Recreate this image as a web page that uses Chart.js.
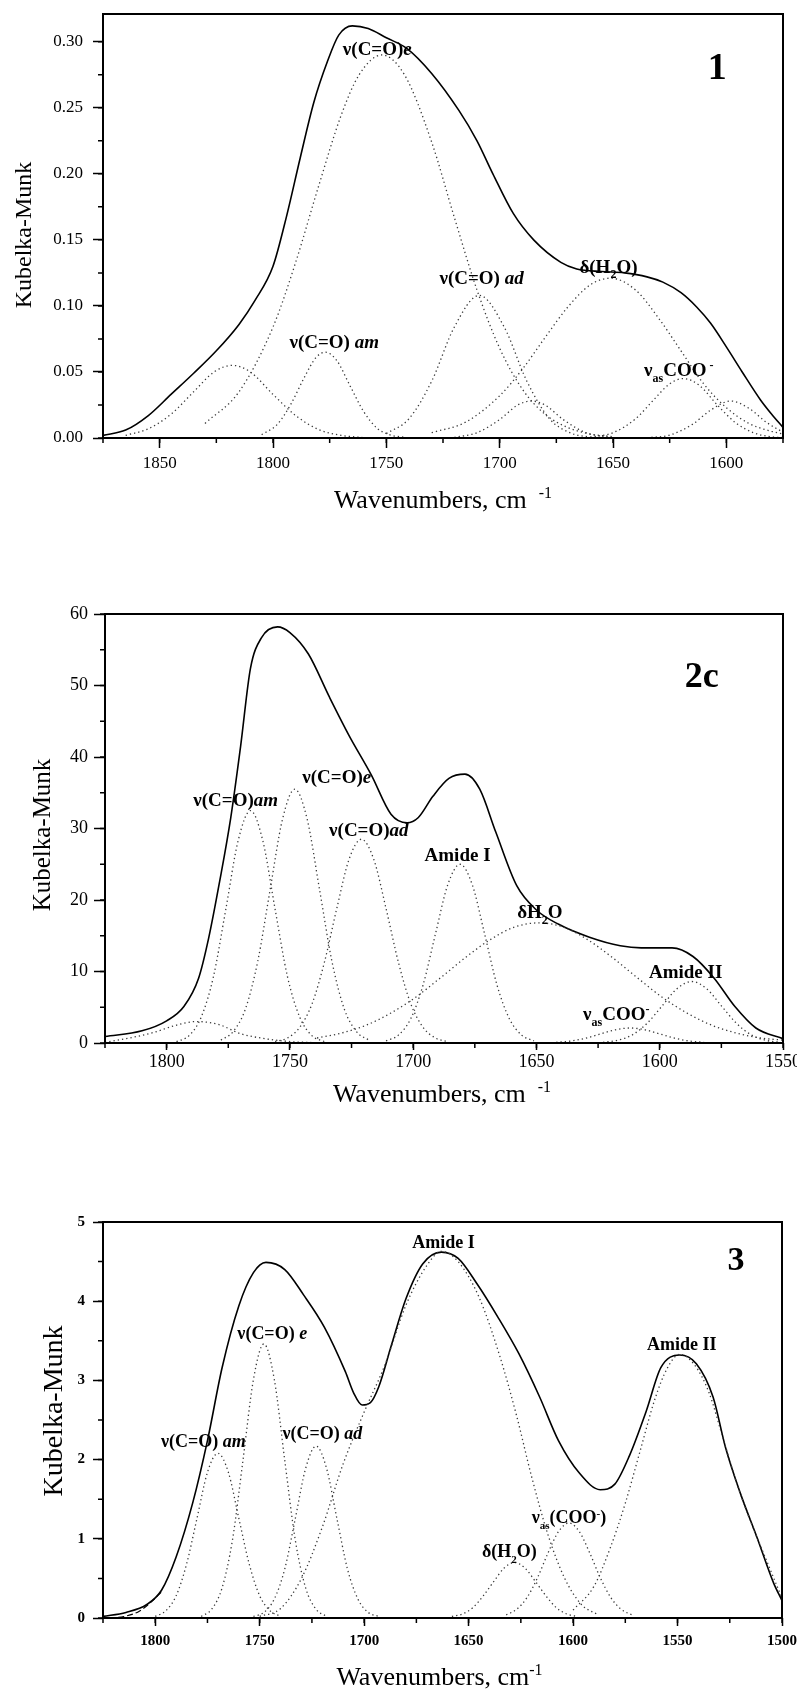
<!DOCTYPE html>
<html>
<head>
<meta charset="utf-8">
<script src="https://cdn.jsdelivr.net/npm/chart.js@4.4.1/dist/chart.umd.min.js"></script>
<style>
  body { margin: 0; background: #fff; }
  #wrap { position: relative; width: 797px; height: 1691px; }
  canvas { position: absolute; left: 0; }
</style>
</head>
<body>
<div id="wrap">
  <canvas id="c1" width="797" height="560" style="top:0px"></canvas>
  <canvas id="c2" width="797" height="560" style="top:560px"></canvas>
  <canvas id="c3" width="797" height="571" style="top:1120px"></canvas>
</div>
<script>
const FONT = '"Liberation Serif", "Times New Roman", serif';

// ---- Panel 1 : [wavenumber, Kubelka-Munk] ----
const xTicks1 = [1850, 1800, 1750, 1700, 1650, 1600];
const yTicks1 = [0, 0.05, 0.10, 0.15, 0.20, 0.25, 0.30];
const sum1 = [[1875,0.002],[1865,0.006],[1855,0.017],[1845,0.033],[1835,0.049],[1825,0.066],[1815,0.086],[1808,0.104],[1800,0.130],[1794,0.168],[1788,0.212],[1782,0.254],[1776,0.285],[1771,0.305],[1765,0.312],[1758,0.310],[1750,0.303],[1741,0.295],[1730,0.276],[1718,0.248],[1710,0.225],[1703,0.200],[1694,0.170],[1685,0.150],[1673,0.133],[1666,0.128],[1655,0.126],[1645,0.125],[1635,0.122],[1628,0.118],[1620,0.110],[1613,0.099],[1607,0.087],[1600,0.069],[1593,0.050],[1585,0.029],[1580,0.018],[1575,0.008]];
const p1Band1818 = [[1865,0.002],[1855,0.007],[1845,0.018],[1835,0.035],[1826,0.050],[1818,0.055],[1810,0.050],[1800,0.033],[1790,0.017],[1780,0.0065],[1770,0.002],[1760,0.0003]];
const p1Am = [[1805,0.0025],[1798,0.0105],[1792,0.026],[1786,0.0465],[1781,0.061],[1777,0.065],[1772,0.059],[1766,0.0395],[1760,0.020],[1754,0.0073],[1748,0.0022],[1742,0.0005]];
const p1E = [[1830,0.011],[1815,0.035],[1800,0.084],[1790,0.133],[1780,0.19],[1770,0.244],[1762,0.275],[1752,0.29],[1742,0.275],[1730,0.224],[1720,0.167],[1710,0.112],[1700,0.068],[1690,0.037],[1680,0.018],[1670,0.008],[1660,0.003],[1650,0.001]];
const p1Ad = [[1750,0.0033],[1740,0.0146],[1730,0.043],[1720,0.084],[1709,0.108],[1698,0.084],[1688,0.043],[1678,0.0146],[1668,0.0033],[1660,0.0007]];
const p1Band1686 = [[1720,0.0005],[1710,0.004],[1700,0.014],[1692,0.025],[1686,0.028],[1680,0.025],[1672,0.014],[1662,0.004],[1652,0.0005]];
const p1H2O = [[1730,0.004],[1715,0.012],[1700,0.032],[1690,0.052],[1680,0.076],[1670,0.099],[1660,0.116],[1651,0.121],[1640,0.112],[1630,0.091],[1620,0.066],[1610,0.041],[1600,0.023],[1590,0.011],[1580,0.005],[1575,0.003]];
const p1Coo = [[1660,0.0006],[1650,0.004],[1640,0.0146],[1632,0.029],[1625,0.041],[1619,0.045],[1612,0.040],[1604,0.025],[1596,0.0117],[1588,0.004],[1580,0.0009],[1575,0.0003]];
const p1Band1598 = [[1635,0.0002],[1625,0.0022],[1615,0.0103],[1607,0.021],[1598,0.028],[1590,0.0224],[1582,0.0115],[1575,0.0044]];

// ---- Panel 2c ----
const xTicks2 = [1800, 1750, 1700, 1650, 1600, 1550];
const yTicks2 = [0, 10, 20, 30, 40, 50, 60];
const sum2 = [[1825,0.9],[1810,1.7],[1800,3.1],[1793,5.1],[1787,9.1],[1783,14.6],[1778.5,22.6],[1774,31.5],[1770,41.5],[1766,52.4],[1761.5,56.7],[1755,58.2],[1750,57.4],[1742.5,54.4],[1734,48.4],[1726,43],[1717,37.5],[1709,32],[1702.5,30.8],[1698,31.5],[1692,34.5],[1685.5,37],[1679,37.6],[1673,35.5],[1666.5,29.5],[1658,22],[1650,18.6],[1641,16.6],[1628.5,14.8],[1616,13.6],[1607.5,13.3],[1595,13.3],[1586.5,12.1],[1578,9.1],[1569.5,5.1],[1561,2.1],[1550,0.6]];
const p2Band1788 = [[1825,0.1],[1815,0.7],[1805,1.5],[1797,2.4],[1788,3.0],[1779,2.6],[1770,1.3],[1760,0.6],[1750,0.2],[1740,0.05]];
const p2Am = [[1796,0.2],[1791,1.0],[1786,3.6],[1781,9.3],[1776,18.7],[1771,28.3],[1766,32.5],[1761,28.3],[1756,18.7],[1751,9.3],[1746,3.6],[1741,1.0],[1736,0.2]];
const p2E = [[1778,0.4],[1773,1.6],[1768,4.8],[1763,11.5],[1758,21.5],[1753,31.3],[1748,35.5],[1743,31.3],[1738,21.5],[1733,11.5],[1728,4.8],[1723,1.6],[1718,0.4]];
const p2Ad = [[1756,0.2],[1751,0.7],[1746,2.2],[1741,5.5],[1736,11.3],[1731,18.8],[1726,25.7],[1721,28.5],[1716,25.7],[1711,18.8],[1706,11.3],[1701,5.5],[1696,2.2],[1691,0.7],[1686,0.2]];
const p2AmideI = [[1711,0.3],[1706,1.1],[1701,3.4],[1696,8.1],[1691,15.2],[1686,22.1],[1681,25],[1676,22.1],[1671,15.2],[1666,8.1],[1661,3.4],[1656,1.1],[1651,0.3]];
const p2H2O = [[1739,0.7],[1729,1.4],[1719,2.5],[1709,4.2],[1699,6.4],[1689,9.1],[1679,11.9],[1669,14.4],[1659,16.2],[1649,16.8],[1639,16.2],[1629,14.4],[1619,11.9],[1609,9.1],[1599,6.4],[1589,4.2],[1579,2.5],[1569,1.4],[1559,0.7],[1550,0.4]];
const p2Coo = [[1642,0.09],[1636,0.28],[1630,0.68],[1624,1.27],[1618,1.85],[1612,2.1],[1606,1.85],[1600,1.27],[1594,0.68],[1588,0.28],[1582,0.09]];
const p2AmideII = [[1623,0.1],[1617,0.38],[1611,1.16],[1605,2.8],[1599,5.2],[1593,7.6],[1587,8.6],[1581,7.6],[1575,5.2],[1569,2.8],[1563,1.16],[1557,0.38],[1551,0.1]];

// ---- Panel 3 ----
const xTicks3 = [1800, 1750, 1700, 1650, 1600, 1550, 1500];
const yTicks3 = [0, 1, 2, 3, 4, 5];
const sum3 = [[1825,0.02],[1814,0.07],[1804,0.17],[1797,0.35],[1790,0.77],[1782,1.46],[1775,2.24],[1768,3.16],[1760,3.94],[1753,4.36],[1747,4.49],[1738,4.40],[1729,4.08],[1719,3.67],[1709,3.11],[1705,2.84],[1701,2.69],[1697,2.72],[1693,2.92],[1687,3.44],[1680,4.03],[1672,4.47],[1663,4.62],[1655,4.54],[1646,4.22],[1636,3.80],[1626,3.34],[1616,2.79],[1607,2.24],[1597,1.83],[1587,1.62],[1580,1.69],[1573,2.05],[1565,2.61],[1558,3.16],[1549,3.32],[1541,3.21],[1533,2.79],[1527,2.15],[1520,1.58],[1512,1.02],[1504,0.44],[1500,0.22]];
const fit3 = [[1822,0.0],[1815,0.02],[1808,0.08],[1802,0.2],[1797,0.33]];
const p3Am = [[1800,0.02],[1795,0.09],[1790,0.28],[1785,0.68],[1780,1.26],[1775,1.84],[1770,2.08],[1765,1.84],[1760,1.26],[1755,0.68],[1750,0.28],[1745,0.09],[1740,0.02]];
const p3E = [[1778,0.02],[1773,0.11],[1768,0.38],[1763,0.99],[1758,1.99],[1753,3.01],[1748,3.46],[1743,3.01],[1738,1.99],[1733,0.99],[1728,0.38],[1723,0.11],[1718,0.02]];
const p3Ad = [[1753,0.02],[1748,0.07],[1743,0.24],[1738,0.62],[1733,1.25],[1728,1.89],[1723,2.17],[1718,1.89],[1713,1.25],[1708,0.62],[1703,0.24],[1698,0.07],[1693,0.02]];
const p3AmideI = [[1750,0.02],[1740,0.12],[1730,0.5],[1720,1.15],[1710,1.95],[1700,2.6],[1690,3.2],[1680,3.95],[1670,4.45],[1663,4.63],[1655,4.5],[1645,4.05],[1635,3.3],[1627,2.55],[1620,1.8],[1612,1.05],[1604,0.5],[1596,0.17],[1588,0.04]];
const p3H2O = [[1658,0.02],[1653,0.05],[1648,0.13],[1643,0.28],[1638,0.46],[1633,0.63],[1628,0.70],[1623,0.63],[1618,0.46],[1613,0.28],[1608,0.13],[1603,0.05],[1598,0.02]];
const p3Coo = [[1632,0.04],[1627,0.11],[1622,0.26],[1617,0.51],[1612,0.82],[1607,1.09],[1602,1.2],[1597,1.09],[1592,0.82],[1587,0.51],[1582,0.26],[1577,0.11],[1572,0.04]];
const p3AmideII = [[1600,0.1],[1590,0.4],[1582,0.9],[1575,1.45],[1568,2.1],[1561,2.75],[1555,3.15],[1549,3.33],[1542,3.2],[1535,2.85],[1528,2.25],[1521,1.65],[1514,1.15],[1507,0.7],[1500,0.25]];

// Band labels: text runs + anchor in data units
const labels1 = [
  { runs: [['ν(C=O)', 'b'], ['e', 'bi']], at: [1754, 0.295] },
  { runs: [['ν(C=O) ', 'b'], ['am', 'bi']], at: [1773, 0.073] },
  { runs: [['ν(C=O) ', 'b'], ['ad', 'bi']], at: [1708, 0.121] },
  { runs: [['δ(H', 'b'], ['2', 'sub'], ['O)', 'b']], at: [1652, 0.130] },
  { runs: [['ν', 'b'], ['as', 'sub'], ['COO', 'b'], [' -', 'sup']], at: [1621, 0.0515] }
];
const labels2 = [
  { runs: [['ν(C=O)', 'b'], ['am', 'bi']], at: [1772, 34] },
  { runs: [['ν(C=O)', 'b'], ['e', 'bi']], at: [1731, 37.2] },
  { runs: [['ν(C=O)', 'b'], ['ad', 'bi']], at: [1718, 29.8] },
  { runs: [['Amide I', 'b']], at: [1682, 26.3] },
  { runs: [['δH', 'b'], ['2', 'sub'], ['O', 'b']], at: [1648.6, 18.3] },
  { runs: [['Amide II', 'b']], at: [1589.5, 9.9] },
  { runs: [['ν', 'b'], ['as', 'sub'], ['COO', 'b'], ['-', 'sup']], at: [1617.6, 4.1] }
];
const labels3 = [
  { runs: [['Amide I', 'b']], at: [1662, 4.75] },
  { runs: [['ν(C=O) ', 'b'], ['e', 'bi']], at: [1744, 3.6] },
  { runs: [['ν(C=O) ', 'b'], ['am', 'bi']], at: [1777, 2.24] },
  { runs: [['ν(C=O) ', 'b'], ['ad', 'bi']], at: [1720, 2.33] },
  { runs: [['Amide II', 'b']], at: [1548, 3.46] },
  { runs: [['ν', 'b'], ['as', 'sub'], ['(COO', 'b'], ['-', 'sup'], [')', 'b']], at: [1602, 1.27] },
  { runs: [['δ(H', 'b'], ['2', 'sub'], ['O)', 'b']], at: [1630.5, 0.84] }
];

// Draws a line of mixed-style text centred on (cx, cy)
function drawRich(ctx, runs, cx, cy, size) {
  const small = Math.round(size * 0.62);
  const styles = {
    r: { font: size + 'px ' + FONT, dy: 0 },
    b: { font: 'bold ' + size + 'px ' + FONT, dy: 0 },
    bi: { font: 'italic bold ' + size + 'px ' + FONT, dy: 0 },
    sub: { font: 'bold ' + small + 'px ' + FONT, dy: size * 0.3 },
    sup: { font: 'bold ' + small + 'px ' + FONT, dy: -size * 0.38 },
    rsup: { font: small + 'px ' + FONT, dy: -size * 0.38 }
  };
  let total = 0;
  const parts = runs.map(([t, s]) => {
    ctx.font = styles[s].font;
    const w = ctx.measureText(t).width;
    total += w;
    return { t, st: styles[s], w };
  });
  let x = cx - total / 2;
  const base = cy + size * 0.33;
  ctx.textAlign = 'left';
  ctx.textBaseline = 'alphabetic';
  ctx.fillStyle = '#000';
  parts.forEach(p => {
    ctx.font = p.st.font;
    ctx.fillText(p.t, x, base + p.st.dy);
    x += p.w;
  });
}

// Frame, minor ticks, band labels and axis titles
function makeDecor(p) {
  return {
    id: 'decor',
    afterDraw(chart) {
      const ctx = chart.ctx;
      const a = chart.chartArea;
      const xs = chart.scales.x, ys = chart.scales.y;
      ctx.save();
      ctx.strokeStyle = '#000';
      ctx.lineWidth = 2;
      ctx.strokeRect(a.left, a.top, a.right - a.left, a.bottom - a.top);

      ctx.lineWidth = 1.5;
      ctx.beginPath();
      const nx = Math.round((p.xMax - p.xMin) / p.xMinor);
      for (let i = 0; i <= nx; i++) {
        const px = xs.getPixelForValue(p.xMin + i * p.xMinor);
        ctx.moveTo(px, a.bottom);
        ctx.lineTo(px, a.bottom + p.minorLen);
      }
      const ny = Math.floor(p.yMax / p.yMinor + 1e-6);
      for (let i = 0; i <= ny; i++) {
        const py = ys.getPixelForValue(i * p.yMinor);
        ctx.moveTo(a.left, py);
        ctx.lineTo(a.left - p.minorLen, py);
      }
      ctx.stroke();

      p.labels.forEach(l => {
        drawRich(ctx, l.runs, xs.getPixelForValue(l.at[0]), ys.getPixelForValue(l.at[1]), p.labelSize);
      });
      drawRich(ctx, [[p.num.text, 'b']], xs.getPixelForValue(p.num.at[0]), ys.getPixelForValue(p.num.at[1]), p.num.size);

      drawRich(ctx, p.xTitle.runs, (a.left + a.right) / 2 + p.xTitle.dx, a.bottom + p.xTitle.dy, p.xTitle.size);

      ctx.translate(p.yTitle.x, p.yTitle.y);
      ctx.rotate(-Math.PI / 2);
      drawRich(ctx, [['Kubelka-Munk', 'r']], 0, 0, p.yTitle.size);
      ctx.restore();
    }
  };
}

function toXY(arr) {
  return arr.map(d => ({ x: d[0], y: d[1] }));
}

function bandSet(arr) {
  return {
    data: toXY(arr), borderColor: '#3a3a3a', borderWidth: 1.3, borderDash: [1.3, 3],
    pointRadius: 0, cubicInterpolationMode: 'monotone', fill: false
  };
}

function sumSet(arr) {
  return {
    data: toXY(arr), borderColor: '#000', borderWidth: 1.6,
    pointRadius: 0, cubicInterpolationMode: 'monotone', fill: false
  };
}

const panels = [
  {
    id: 'c1', xMin: 1575, xMax: 1875, yMax: 0.321, xTicks: xTicks1, yTicks: yTicks1,
    yFmt: v => v.toFixed(2), padTop: 14, padRight: 14, xAxisH: 122, yAxisW: 103,
    xMinor: 25, yMinor: 0.025, minorLen: 5, tickFont: 17, tickBold: 'normal',
    xTickLen: 10, xTickPad: 5, yTickLen: 10, yTickPad: 10, labelSize: 19, labels: labels1,
    num: { text: '1', at: [1604, 0.281], size: 38 },
    xTitle: { runs: [['Wavenumbers, cm', 'r'], ['   -1', 'rsup']], dx: 0, dy: 61, size: 26 },
    yTitle: { x: 23, y: 235, size: 24 },
    sets: [bandSet(p1Band1818), bandSet(p1Am), bandSet(p1E), bandSet(p1Ad), bandSet(p1Band1686),
           bandSet(p1H2O), bandSet(p1Coo), bandSet(p1Band1598), sumSet(sum1)]
  },
  {
    id: 'c2', xMin: 1550, xMax: 1825, yMax: 60, xTicks: xTicks2, yTicks: yTicks2,
    yFmt: v => String(v), padTop: 54, padRight: 14, xAxisH: 77, yAxisW: 105,
    xMinor: 25, yMinor: 5, minorLen: 5, tickFont: 18, tickBold: 'normal',
    xTickLen: 7, xTickPad: 1, yTickLen: 11, yTickPad: 6, labelSize: 19, labels: labels2,
    num: { text: '2c', at: [1583, 51.4], size: 36 },
    xTitle: { runs: [['Wavenumbers, cm', 'r'], ['   -1', 'rsup']], dx: -2, dy: 50, size: 26 },
    yTitle: { x: 42, y: 275, size: 25 },
    sets: [bandSet(p2Band1788), bandSet(p2Am), bandSet(p2E), bandSet(p2Ad), bandSet(p2AmideI),
           bandSet(p2H2O), bandSet(p2Coo), bandSet(p2AmideII), sumSet(sum2)]
  },
  {
    id: 'c3', xMin: 1500, xMax: 1825, yMax: 5, xTicks: xTicks3, yTicks: yTicks3,
    yFmt: v => String(v), padTop: 102, padRight: 15, xAxisH: 73, yAxisW: 103,
    xMinor: 25, yMinor: 0.5, minorLen: 5, tickFont: 15, tickBold: 'bold',
    xTickLen: 8, xTickPad: 6, yTickLen: 10, yTickPad: 8, labelSize: 18, labels: labels3,
    num: { text: '3', at: [1522, 4.54], size: 34 },
    xTitle: { runs: [['Wavenumbers, cm', 'r'], ['-1', 'rsup']], dx: -3, dy: 58, size: 26 },
    yTitle: { x: 53, y: 291, size: 28 },
    sets: [bandSet(p3Am), bandSet(p3E), bandSet(p3Ad), bandSet(p3AmideI), bandSet(p3H2O),
           bandSet(p3Coo), bandSet(p3AmideII),
           Object.assign(sumSet(fit3), { borderDash: [6, 3], borderWidth: 1.1 }), sumSet(sum3)]
  }
];

function createPanel(p) {
  const tickFont = { family: FONT, size: p.tickFont, weight: p.tickBold };
  new Chart(document.getElementById(p.id), {
    type: 'line',
    data: { datasets: p.sets },
    options: {
      responsive: false,
      animation: false,
      layout: { padding: { top: p.padTop, right: p.padRight, left: 0, bottom: 0 } },
      plugins: { legend: { display: false }, tooltip: { enabled: false } },
      scales: {
        x: {
          type: 'linear', reverse: true, min: p.xMin, max: p.xMax,
          afterBuildTicks: s => { s.ticks = p.xTicks.map(v => ({ value: v })); },
          afterFit: s => { s.height = p.xAxisH; s.paddingLeft = 0; s.paddingRight = 0; },
          ticks: { font: tickFont, color: '#000', padding: p.xTickPad, maxRotation: 0, autoSkip: false,
                   callback: v => String(v) },
          grid: { drawOnChartArea: false, drawTicks: true, tickLength: p.xTickLen,
                  tickWidth: 1.5, tickColor: '#000', color: '#000' },
          border: { display: false }
        },
        y: {
          type: 'linear', min: 0, max: p.yMax,
          afterBuildTicks: s => { s.ticks = p.yTicks.map(v => ({ value: v })); },
          afterFit: s => { s.width = p.yAxisW; s.paddingTop = 0; s.paddingBottom = 0; },
          ticks: { font: tickFont, color: '#000', padding: p.yTickPad, autoSkip: false,
                   callback: v => p.yFmt(v) },
          grid: { drawOnChartArea: false, drawTicks: true, tickLength: p.yTickLen,
                  tickWidth: 1.5, tickColor: '#000', color: '#000' },
          border: { display: false }
        }
      }
    },
    plugins: [makeDecor(p)]
  });
}

panels.forEach(createPanel);
</script>
</body>
</html>
